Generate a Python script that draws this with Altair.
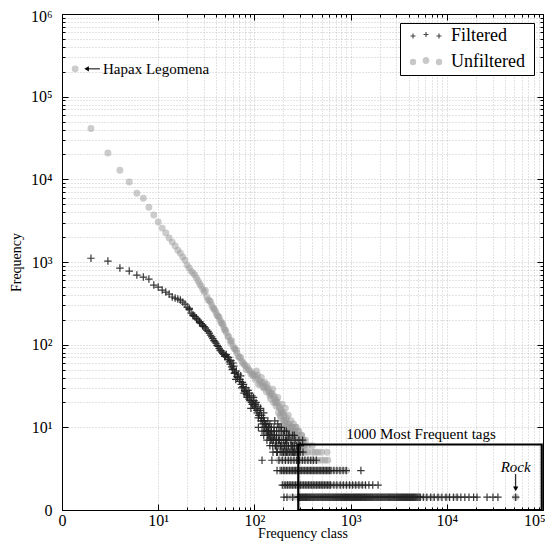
import altair as alt
import pandas as pd

# ---------------- data ----------------
series_names = ["Filtered", "Unfiltered"]

# y value at which a frequency of 1 is drawn (bottom row of the plot)
ONE = 1.43

# Unfiltered (grey circles): main trail and scatter
unf_trail_x = [1.37, 2, 3, 4, 5, 6, 7, 8, 9, 10, 11, 12, 13, 14, 15, 16, 17, 18, 19, 20,
               21, 22, 23, 24, 25, 26, 27, 28, 29, 30, 32, 34, 36, 38, 40, 42, 44, 46, 48, 50,
               53, 56, 60, 63, 66, 70, 74, 78, 84, 90, 95, 100, 106, 113, 120, 130, 140, 150,
               160, 170, 180, 190, 200, 215, 230, 245, 260, 280, 300,
               105, 110, 118, 125, 135, 145, 155, 165, 175, 185, 195, 205, 210, 220, 225,
               235, 240, 250, 255, 265, 270, 285, 290, 310, 320, 330,
               31, 33, 35, 37, 39, 41, 43, 45, 47, 49, 51, 54, 57, 58, 62, 65, 68, 72, 76, 80,
               82, 87, 92, 97, 102, 108, 115, 122, 128, 133, 138, 143, 148, 153, 158, 163, 168,
               173, 178, 183, 188, 193, 198, 203, 208, 213, 218, 228, 233, 238, 248, 253, 258,
               268, 275, 295, 305, 315]
unf_trail_y = [217000, 41200, 20800, 12900, 9300, 6800, 5900, 4600, 3700, 3040, 2570, 2240,
               1950, 1740, 1560, 1390, 1280, 1150, 1050, 917, 844, 776, 734, 695, 639, 588,
               541, 511, 470, 433, 380, 340, 300, 270, 241, 220, 198, 180, 162, 150, 126, 112,
               96, 88, 79, 70, 63, 58, 54, 48, 45, 43, 40, 37, 35, 31, 28, 26, 24, 21, 18, 16,
               15, 13, 11, 10, 9, 8, 7,
               48, 33, 40, 30, 33, 24, 29, 20, 23, 14, 19, 12, 17, 11, 14,
               9, 12, 8, 11, 7, 10, 9, 6, 8, 7, 6,
               450, 350, 330, 280, 260, 225, 215, 185, 175, 150, 140, 125, 105, 112, 90, 85, 72,
               70, 60, 56, 50, 50, 44, 42, 38, 43, 34, 31, 35, 27, 30, 26, 22, 25, 20, 22, 18,
               20, 15, 17, 13, 15, 12, 14, 11, 12, 10, 9, 10, 8, 9, 7, 8, 6, 7, 6, 7, 6]
unf_row10_x = [180, 200, 225, 250, 270]
unf_row9_x = [190, 215, 240, 265, 290]
unf_row8_x = [200, 230, 260, 285, 310]
unf_row7_x = [220, 250, 270, 290, 320, 340]
unf_row6_x = [240, 260, 280, 300, 330, 360, 400]
unf_row5_x = [200, 225, 250, 275, 300, 320, 340, 360, 400, 430, 460, 500, 570]
unf_row4_x = [180, 200, 220, 240, 265, 290, 315, 340, 370, 400, 430, 460, 500, 540, 580]
unf_row3_x = [200, 225, 250, 275, 300, 330, 360, 390, 420, 460, 500, 550, 600, 650, 710,
              780, 850, 910]
unf_row2_x = [220, 250, 280, 310, 340, 370, 400, 440, 480, 520, 570, 620, 680, 740, 800,
              870, 950, 1030, 1120, 1220, 1350]
unf_row1_x = [240, 270, 300, 330, 360, 400, 440, 480, 530, 580, 640, 700, 770, 850, 930,
              1020, 1120, 1230, 1350, 1480, 1620, 1780, 1950, 2150, 2400, 2700, 3000, 3400,
              3900, 4500, 5200, 6000, 7000, 8300, 10000, 12500, 52000]

# Filtered (dark crosses): main trail and scatter
fil_trail_x = [2, 3, 4, 5, 6, 7, 8, 9, 10, 11, 12, 13, 14, 15, 16, 17, 18, 19, 20, 21, 22,
               23, 24, 25, 26, 27, 28, 29, 30, 31, 33, 34, 36, 38, 40, 42, 44, 46, 48, 50, 52,
               55, 58, 60, 63, 66, 70, 73, 76, 80, 84, 90, 95, 100, 106, 112, 118, 123, 130,
               135, 140, 148, 156,
               60, 64, 72, 78, 86, 92, 98, 104, 110, 116, 125, 128, 138, 144, 150, 160, 165,
               170, 178, 185, 190, 200, 210, 225, 240, 250, 260, 280, 300, 317, 120, 152, 172,
               260, 230, 205, 190, 175, 200, 215, 145, 163,
               21, 23, 25, 27, 29, 32, 35, 37, 39, 41, 43, 45, 47, 49, 51, 53, 54, 56, 57, 59,
               61, 62, 65, 67, 68, 71, 74, 75, 77, 79, 82, 83, 85, 88, 89, 93, 94, 97, 99, 102,
               103, 107, 109, 111, 114, 117, 119, 121, 124, 127, 129, 132, 134, 137, 139, 142,
               146, 149, 153, 155, 158, 162, 167, 169, 174, 176, 182, 187, 193, 198, 203, 208,
               212, 218, 222, 235, 245, 255, 270, 290]
fil_trail_y = [1110, 1025, 845, 776, 695, 657, 621, 526, 497, 457, 433, 409, 377, 366, 356,
               346, 327, 310, 285, 265, 241, 230, 220, 210, 198, 190, 180, 172, 165, 159, 145,
               138, 124, 112, 104, 95, 86, 81, 77, 74, 71, 62, 54, 51, 46, 41, 36, 33, 31, 27,
               23, 21, 19, 18, 16, 14, 13, 12, 11, 9, 10, 8, 7,
               60, 38, 42, 26, 28, 17, 23, 20, 13, 17, 15, 10, 12, 8, 10, 9, 6,
               8, 7, 5, 6, 5, 7, 6, 6, 5, 6, 5, 6, 7, 4, 4, 3,
               8, 8, 9, 10, 11, 7, 6, 11, 12,
               275, 225, 205, 185, 168, 150, 130, 118, 108, 98, 90, 84, 78, 72, 76, 66, 70, 58,
               64, 50, 55, 45, 48, 40, 44, 38, 30, 35, 33, 28, 30, 25, 24, 22, 26, 20, 24, 19,
               21, 17, 19, 15, 18, 14, 16, 12, 14, 11, 13, 12, 9, 11, 10, 8, 9, 10, 7, 9, 8, 6,
               7, 8, 7, 6, 5, 6, 7, 6, 5, 6, 5, 6, 5, 7, 5, 5, 6, 5, 5, 5]
fil_row10_x = [110, 125, 140, 160, 180]
fil_row9_x = [120, 135, 150, 170, 190, 215]
fil_row8_x = [125, 140, 160, 180, 200, 225, 250]
fil_row7_x = [135, 150, 170, 190, 215, 240, 265, 290]
fil_row6_x = [145, 165, 185, 205, 225, 250, 275, 300]
fil_row5_x = [156, 170, 200, 215, 230, 245, 262, 280, 300, 320]
fil_row4_x = [180, 195, 210, 225, 240, 258, 275, 295, 315, 335, 360, 385, 410, 440]
fil_row3_x = [185, 200, 215, 232, 250, 268, 288, 310, 333, 357, 383, 410, 440, 472, 506, 543,
              582, 625, 670, 720, 775, 835, 900, 1280,
              192, 207, 223, 241, 259, 278, 299, 321, 345, 370, 396, 425, 456, 489, 524, 562,
              603]
fil_row2_x = [195, 212, 230, 248, 268, 290, 313, 338, 365, 394, 425, 459, 495, 534, 576, 620,
              670, 720, 780, 840, 905, 975, 1050, 1130, 1220, 1320, 1430, 1550, 1700, 1930,
              204, 221, 239, 258, 279, 301, 325, 351, 379, 409, 442, 477, 514, 555, 598]
fil_row1_x = [203, 218, 250, 284, 295, 310, 325, 341, 358, 376, 395, 415, 436, 458, 481, 505,
              530, 556, 584, 613, 644, 676, 710, 745, 782, 821, 862, 905, 950, 998, 1050, 1100,
              1155, 1210, 1270, 1335, 1400, 1470, 1545, 1620, 1700, 1790, 1880, 1970, 2070,
              2170, 2280, 2400, 2520, 2640, 2770, 2910, 3060, 3210, 3370, 3540, 3720, 3900,
              4100, 4300, 4520, 4750, 5000, 5300, 5700, 6200, 6800, 7400, 8100, 8900, 9800,
              10700, 11700, 12800, 14000, 15400, 17000, 19000, 20600, 26200, 30200, 34000,
              52000,
              289, 302, 317, 333, 349, 367, 385, 405, 425, 447, 469, 493, 517, 543, 570, 598,
              628, 660, 693, 727, 763, 801, 841, 883, 927, 974, 1024, 1075, 1127, 1182, 1240,
              1302, 1367, 1435, 1507, 1582, 1660, 1745, 1835, 1925, 2020, 2120, 2225, 2340,
              2460, 2580, 2705, 2840, 2985, 3135, 3290, 3455, 3630, 3810, 4000, 4200, 4410,
              4635, 4875, 5150]

# axis ticks (majors with labels, minors unlabeled)
x_ticks = [1] + [m * 10 ** e for e in range(1, 5) for m in range(1, 10)] + [100000]
y_ticks = [1] + [m * 10 ** e for e in range(1, 6) for m in range(1, 10)] + [1000000]

# annotations
hapax_label = ["Hapax Legomena"]
hapax_xy = [2.67, 217000]
hapax_arrow_x = [1.80, 2.48]
box_x = [286, 97000]
box_y = [1, 6.2]
box_label = ["1000 Most Frequent tags"]
box_label_xy = [5400, 8.3]
rock_label = ["Rock"]
rock_xy = [52000, 3.31]
rock_arrow_y = [2.72, 1.80]

# ---------------- tables ----------------
rows = []
for x, y in zip(unf_trail_x, unf_trail_y):
    rows.append((x, y, "Unfiltered"))
for lvl, xs in [(10, unf_row10_x), (9, unf_row9_x), (8, unf_row8_x), (7, unf_row7_x),
                (6, unf_row6_x), (5, unf_row5_x), (4, unf_row4_x), (3, unf_row3_x),
                (2, unf_row2_x), (ONE, unf_row1_x)]:
    for x in xs:
        rows.append((x, lvl, "Unfiltered"))
for x, y in zip(fil_trail_x, fil_trail_y):
    rows.append((x, y, "Filtered"))
for lvl, xs in [(10, fil_row10_x), (9, fil_row9_x), (8, fil_row8_x), (7, fil_row7_x),
                (6, fil_row6_x), (5, fil_row5_x), (4, fil_row4_x), (3, fil_row3_x),
                (2, fil_row2_x), (ONE, fil_row1_x)]:
    for x in xs:
        rows.append((x, lvl, "Filtered"))
df = pd.DataFrame(rows, columns=["x", "y", "series"])

FONT = "Liberation Serif"
xscale = alt.Scale(type="log", domain=[1, 100000], nice=False)
yscale = alt.Scale(type="log", domain=[1, 1000000], nice=False)

tick_expr = "abs(log(datum.value)/LN10 - round(log(datum.value)/LN10)) < 0.01 ? -6 : -3"
x_label_expr = ("datum.value == 1 ? '0' : datum.value == 10 ? '10¹' : datum.value == 100 ? '10²' : "
                "datum.value == 1000 ? '10³' : datum.value == 10000 ? '10⁴' : "
                "datum.value == 100000 ? '10⁵' : ''")
y_label_expr = ("datum.value == 1 ? '0' : datum.value == 10 ? '10¹' : datum.value == 100 ? '10²' : "
                "datum.value == 1000 ? '10³' : datum.value == 10000 ? '10⁴' : "
                "datum.value == 100000 ? '10⁵' : datum.value == 1000000 ? '10⁶' : ''")

grid_kw = dict(grid=True, gridDash=[1, 2], gridColor="#b8b8b8", gridWidth=0.8)
axis_x_bottom = alt.Axis(values=x_ticks, labelExpr=x_label_expr, tickSize=alt.ExprRef(tick_expr),
                         tickColor="black", domainColor="black", labelPadding=8,
                         labelAlign=alt.ExprRef("datum.value == 100000 ? 'right' : 'center'"),
                         labelOffset=alt.ExprRef("datum.value == 100000 ? 2 : 0"),
                         labelFont=FONT, labelFontSize=16, labelColor="black",
                         labelOverlap=False, labelFlush=False,
                         title="Frequency class", titleFont=FONT, titleFontSize=14,
                         titleFontWeight="normal", titleColor="black",
                         titleY=27, titleBaseline="alphabetic", **grid_kw)
axis_y_left = alt.Axis(values=y_ticks, labelExpr=y_label_expr, tickSize=alt.ExprRef(tick_expr),
                       tickColor="black", domainColor="black", labelPadding=16,
                       labelOffset=alt.ExprRef("datum.value == 1000000 ? 2 : 0"),
                       labelFont=FONT, labelFontSize=16, labelColor="black",
                       labelOverlap=False, labelFlush=False,
                       title="Frequency", titleFont=FONT, titleFontSize=14,
                       titleFontWeight="normal", titleColor="black", titlePadding=7, **grid_kw)
axis_x_top = alt.Axis(orient="top", values=x_ticks, labels=False, title=None, grid=False,
                      tickSize=alt.ExprRef(tick_expr), tickColor="black", domainColor="black")
axis_y_right = alt.Axis(orient="right", values=y_ticks, labels=False, title=None, grid=False,
                        tickSize=alt.ExprRef(tick_expr), tickColor="black", domainColor="black")


def X(axis=None, field="x"):
    return alt.X(f"{field}:Q", scale=xscale, axis=axis)


def Y(axis=None, field="y"):
    return alt.Y(f"{field}:Q", scale=yscale, axis=axis)


base = alt.Chart(df)
CROSS = "M-1,0H1M0,-1V1"
PLUS3 = ("M-1.94,0H-1.31M-1.625,-0.31V0.31M-0.31,-0.19H0.31M0,-0.5V0.12"
         "M1.31,0H1.94M1.625,-0.31V0.31")
DOT3 = ("M-1.955,0A0.33,0.33 0 1 0 -1.295,0A0.33,0.33 0 1 0 -1.955,0Z"
        "M-0.36,-0.19A0.36,0.36 0 1 0 0.36,-0.19A0.36,0.36 0 1 0 -0.36,-0.19Z"
        "M1.295,0A0.33,0.33 0 1 0 1.955,0A0.33,0.33 0 1 0 1.295,0Z")

circles = base.transform_filter(alt.datum.series == "Unfiltered").mark_point(
    shape="circle", filled=True, fill="#999999", opacity=0.5, size=48, strokeWidth=0
).encode(x=X(axis_x_bottom), y=Y(axis_y_left))

crosses = base.transform_filter(alt.datum.series == "Filtered").mark_point(
    shape=CROSS, filled=False, stroke="#222222", strokeWidth=1.2, opacity=0.9, size=56
).encode(x=X(axis_x_top), y=Y(axis_y_right))

# a blank (white) title on the right of the entries widens the box on the right side
leg = alt.Legend(title=".", titleOrient="right", titleColor="white", titleFontSize=18,
                 titleFont=FONT, titlePadding=0,
                 orient="top-right", offset=9, padding=4, rowPadding=8,
                 symbolOffset=13, labelOffset=16, labelFont=FONT, labelFontSize=18,
                 labelColor="black", strokeColor="black", fillColor="white",
                 symbolSize=256, symbolStrokeWidth=1.1, symbolOpacity=1, cornerRadius=0)
legend_layer = base.mark_point(filled=True, opacity=0, size=256).encode(
    x=X(), y=Y(),
    shape=alt.Shape("series:N", scale=alt.Scale(domain=series_names, range=[PLUS3, DOT3]), legend=leg),
    fill=alt.Fill("series:N", scale=alt.Scale(domain=series_names, range=["#444444", "#c8c8c8"]), legend=leg),
    stroke=alt.Stroke("series:N", scale=alt.Scale(domain=series_names, range=["#444444", "#c8c8c8"]), legend=leg),
)

box_df = pd.DataFrame({"x": [box_x[0]], "x2": [box_x[1]], "y": [box_y[0]], "y2": [box_y[1]]})
box = alt.Chart(box_df).mark_rect(filled=False, stroke="black", strokeWidth=2.2, fillOpacity=0).encode(
    x=X(), x2="x2:Q", y=Y(), y2="y2:Q")

hapax_text = alt.Chart(pd.DataFrame({"x": [hapax_xy[0]], "y": [hapax_xy[1]], "t": hapax_label})).mark_text(
    align="left", baseline="middle", font=FONT, fontSize=15, color="black").encode(x=X(), y=Y(), text="t:N")
hapax_rule = alt.Chart(pd.DataFrame({"x": [hapax_arrow_x[0]], "x2": [hapax_arrow_x[1]], "y": [hapax_xy[1]]})).mark_rule(
    color="black", strokeWidth=1).encode(x=X(), x2="x2:Q", y=Y())
hapax_head = alt.Chart(pd.DataFrame({"x": [hapax_arrow_x[0]], "y": [hapax_xy[1]]})).mark_point(
    shape="triangle-left", filled=True, color="black", size=28, opacity=1).encode(x=X(), y=Y())

box_text = alt.Chart(pd.DataFrame({"x": [box_label_xy[0]], "y": [box_label_xy[1]], "t": box_label})).mark_text(
    align="center", baseline="middle", font=FONT, fontSize=15, color="black").encode(x=X(), y=Y(), text="t:N")
rock_text = alt.Chart(pd.DataFrame({"x": [rock_xy[0]], "y": [rock_xy[1]], "t": rock_label})).mark_text(
    align="center", baseline="middle", font=FONT, fontSize=15, fontStyle="italic", color="black").encode(
    x=X(), y=Y(), text="t:N")
rock_rule = alt.Chart(pd.DataFrame({"x": [rock_xy[0]], "y": [rock_arrow_y[0]], "y2": [rock_arrow_y[1]]})).mark_rule(
    color="black", strokeWidth=1).encode(x=X(), y=Y(), y2="y2:Q")
rock_head = alt.Chart(pd.DataFrame({"x": [rock_xy[0]], "y": [rock_arrow_y[1]]})).mark_point(
    shape="triangle-down", filled=True, color="black", size=28, opacity=1).encode(x=X(), y=Y())

chart = alt.layer(
    circles, crosses, legend_layer, box, hapax_rule, hapax_head, hapax_text,
    box_text, rock_rule, rock_head, rock_text
).resolve_axis(x="independent", y="independent").properties(
    width=481, height=496,
    autosize=alt.AutoSizeParams(type="none"),
    padding={"left": 54, "top": 6, "right": 2, "bottom": 31},
).configure_view(stroke="black", strokeWidth=1).configure(background="white")

chart.save("out.html", embed_options={"renderer": "svg", "actions": False})
